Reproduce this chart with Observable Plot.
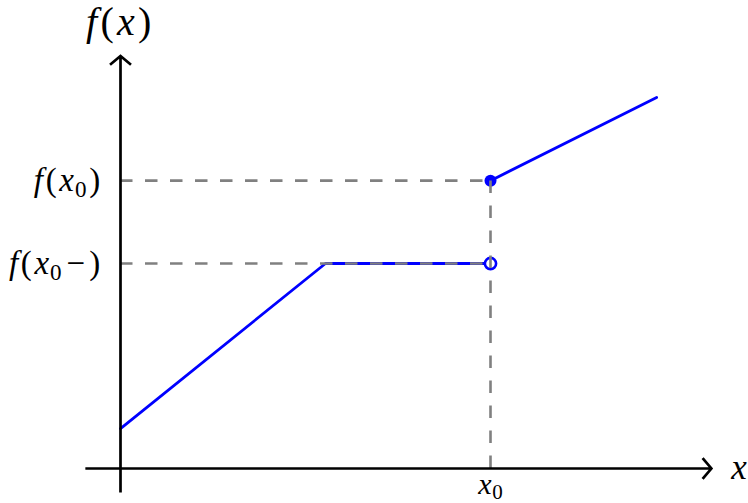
<!DOCTYPE html>
<html>
<head>
<meta charset="utf-8">
<script src="https://cdn.jsdelivr.net/npm/d3@7"></script>
<script src="https://cdn.jsdelivr.net/npm/@observablehq/plot@0.6"></script>
<style>
  html, body { margin: 0; padding: 0; background: #fff; }
  svg { display: block; }
  svg text, svg tspan { font-family: "Times New Roman", serif !important; }
</style>
</head>
<body>
<div id="chart"></div>
<script>
// ---- data (in chart units) ----
const x0 = 10;
const fx0 = 7.78;        // f(x0)
const fx0minus = 5.54;   // f(x0-)
const leftX = [0, 5.54, 10];
const leftY = [1.08, 5.54, 5.54];
const rightX = [10, 14.49];
const rightY = [7.78, 10.03];
const axisXRange = [-0.95, 15.97];
const axisYRange = [-0.65, 11.15];
const yTickLabels = ["f(x₀)", "f(x₀−)"];
const yTickValues = [fx0, fx0minus];
const xTickLabels = ["x₀"];
const xTickValues = [x0];

const leftSeg = leftX.map((x, i) => ({x, y: leftY[i]}));
const rightSeg = rightX.map((x, i) => ({x, y: rightY[i]}));
const blue = "#0000ff", gray = "#808080";
const serif = "Times New Roman, serif";
const dash = {stroke: gray, strokeWidth: 2.6, strokeDasharray: "12.5,12.5", strokeLinecap: "butt"};
const axisStyle = {stroke: "#000", strokeWidth: 2.7, headAngle: 100, headLength: 7.6,
  strokeLinecap: "butt", strokeLinejoin: "miter", strokeMiterlimit: 4};

const plot = Plot.plot({
  width: 748, height: 503,
  margin: 0,
  x: {domain: [-120/37, 628/37], range: [0, 748], axis: null},
  y: {domain: [-35/37, 468/37], range: [503, 0], axis: null},
  style: {background: "#fff"},
  marks: [
    Plot.line(leftSeg, {x: "x", y: "y", stroke: blue, strokeWidth: 2.8}),
    Plot.line(rightSeg, {x: "x", y: "y", stroke: blue, strokeWidth: 2.8}),
    Plot.dot([{x: x0, y: fx0}], {x: "x", y: "y", r: 6, fill: blue, stroke: "none"}),
    Plot.dot([{x: x0, y: fx0minus}], {x: "x", y: "y", r: 5.6, fill: "#fff", stroke: blue, strokeWidth: 2.6}),
    Plot.ruleY(yTickValues, {x1: 0, x2: x0, ...dash}),
    Plot.ruleX(xTickValues, {y1: 0, y2: fx0, ...dash}),
    Plot.arrow([{a: axisXRange[0], b: axisXRange[1]}], {x1: "a", x2: "b", y1: 0, y2: 0, ...axisStyle}),
    Plot.arrow([{a: axisYRange[0], b: axisYRange[1]}], {y1: "a", y2: "b", x1: 0, x2: 0, ...axisStyle}),
    Plot.text(["f(x)"], {x: -0.05, y: 12.05, text: d => d, fontSize: 40, fontFamily: serif, textAnchor: "middle", fill: "#000", className: "math"}),
    Plot.text(["x"], {x: 16.72, y: 0.02, text: d => d, fontSize: 35, fontFamily: serif, textAnchor: "middle", fill: "#000", className: "math"}),
    Plot.text(yTickValues, {x: -0.55, y: d => d, text: (d, i) => yTickLabels[i], fontSize: 33, fontFamily: serif, textAnchor: "end", fill: "#000", className: "math"}),
    Plot.text(xTickValues, {x: d => d, y: -0.42, text: (d, i) => xTickLabels[i], fontSize: 30, fontFamily: serif, textAnchor: "middle", fill: "#000", className: "math"})
  ]
});
document.getElementById("chart").appendChild(plot);

// typeset: italic letters, upright parens/digits, lowered subscript
const NS = "http://www.w3.org/2000/svg";
plot.querySelectorAll(".math text").forEach(t => {
  const s = t.textContent;
  const fs = parseFloat(getComputedStyle(t).fontSize) || 30;
  t.textContent = "";
  let lowered = false;
  let first = true;
  for (const ch of s) {
    const sp = document.createElementNS(NS, "tspan");
    let txt = ch, dy = 0, dx = first ? 0 : fs * 0.08;
    if (/[a-z]/.test(ch)) sp.setAttribute("font-style", "italic");
    if (ch === "₀") {
      txt = "0"; sp.setAttribute("font-size", (fs * 0.7) + "px");
      dy = fs * 0.18; lowered = true; dx = fs * 0.03;
    } else if (lowered) { dy = -fs * 0.18; lowered = false; }
    if (ch === "−") { dx = fs * 0.15; }
    if (ch === ")" && s.includes("−")) dx = fs * 0.12;
    sp.setAttribute("dx", dx);
    if (dy) sp.setAttribute("dy", dy);
    sp.textContent = txt;
    t.appendChild(sp);
    first = false;
  }
});
</script>
</body>
</html>
